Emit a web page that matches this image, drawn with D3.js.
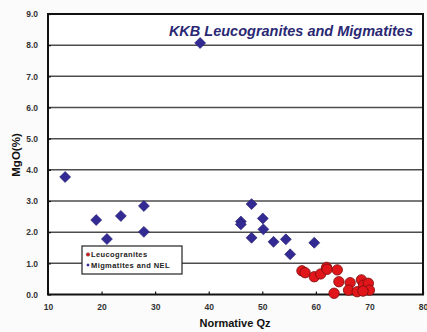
<!DOCTYPE html>
<html>
<head>
<meta charset="utf-8">
<script src="https://cdn.jsdelivr.net/npm/d3@7"></script>
<style>
  body { margin: 0; background: #fbfbfb; }
  svg { font-family: "Liberation Sans", Arial, sans-serif; }
</style>
</head>
<body>
<div id="chart"></div>
<script>
// Migmatites and NEL (blue diamonds)
var migQz  = [13.2, 19.0, 21.0, 23.6, 27.9, 27.9, 38.4, 48.0, 46.0, 46.0, 50.1, 50.2, 48.0, 52.1, 54.4, 59.7, 55.2];
var migMgO = [3.77, 2.39, 1.78, 2.52, 2.84, 2.01, 8.07, 2.90, 2.34, 2.25, 2.44, 2.09, 1.82, 1.69, 1.77, 1.66, 1.29];
// Leucogranites (red circles)
var leuQz  = [57.4, 58.0, 59.7, 60.9, 62.0, 62.1, 64.0, 64.3, 63.4, 66.4, 66.1, 67.7, 68.5, 68.9, 69.8, 70.0, 68.8];
var leuMgO = [0.76, 0.70, 0.57, 0.66, 0.87, 0.81, 0.79, 0.41, 0.04, 0.38, 0.14, 0.09, 0.47, 0.30, 0.36, 0.14, 0.11];

var xTicks = [10, 20, 30, 40, 50, 60, 70, 80];
var yTicks = [0, 1, 2, 3, 4, 5, 6, 7, 8, 9];
var legendLabels = ["Leucogranites", "Migmatites and NEL"];
var titleText = "KKB Leucogranites and Migmatites";

var margin = {top: 14, right: 5, bottom: 37, left: 48},
    outerWidth = 427,
    outerHeight = 332,
    width = 423 - margin.left,
    height = 294.5 - margin.top;

var x = d3.scaleLinear().domain([10, 80]).range([0, width]);
var y = d3.scaleLinear().domain([0, 9]).range([height, 0]);

var svg = d3.select("#chart").append("svg")
    .attr("width", outerWidth)
    .attr("height", outerHeight)
  .append("g")
    .attr("transform", "translate(" + margin.left + "," + margin.top + ")");

svg.append("rect")
    .attr("width", width)
    .attr("height", height)
    .style("fill", "#fff");

// grid lines
svg.selectAll(".grid")
    .data(yTicks.filter(function(d) { return d > 0 && d < 9; }))
    .enter().append("line")
    .attr("x1", 0).attr("x2", width)
    .attr("y1", function(d) { return y(d); })
    .attr("y2", function(d) { return y(d); })
    .style("stroke", "#4d4d4d")
    .style("stroke-width", 1.5);

var xAxis = d3.axisBottom(x).tickValues(xTicks).tickSize(-3).tickPadding(9)
    .tickFormat(d3.format("d"));
var yAxis = d3.axisLeft(y).tickValues(yTicks).tickSize(-3).tickPadding(10)
    .tickFormat(d3.format(".1f"));

var gX = svg.append("g")
    .attr("transform", "translate(0," + height + ")")
    .call(xAxis);
var gY = svg.append("g").call(yAxis);

[gX, gY].forEach(function(g) {
    g.select(".domain").remove();
    g.selectAll("line").style("stroke", "#111").style("stroke-width", 1.2);
    g.selectAll("text")
        .style("font-size", "8.5px")
        .style("font-weight", "bold")
        .style("fill", "#333");
});

// plot border
svg.append("rect")
    .attr("width", width)
    .attr("height", height)
    .style("fill", "none")
    .style("stroke", "#111")
    .style("stroke-width", 2);

// axis titles
svg.append("text")
    .attr("x", 235 - margin.left)
    .attr("y", height + 32)
    .style("text-anchor", "middle")
    .style("font-size", "11px")
    .style("font-weight", "bold")
    .style("fill", "#111")
    .text("Normative Qz");

svg.append("text")
    .attr("transform", "rotate(-90)")
    .attr("x", -(155 - margin.top))
    .attr("y", -28)
    .style("text-anchor", "middle")
    .style("font-size", "11.5px")
    .style("font-weight", "bold")
    .style("fill", "#111")
    .text("MgO(%)");

// title
svg.append("text")
    .attr("x", width - 10)
    .attr("y", 22)
    .style("text-anchor", "end")
    .style("font-size", "14.5px")
    .style("font-weight", "bold")
    .style("font-style", "italic")
    .style("fill", "#2a2873")
    .text(titleText);

var diamond = d3.symbol().type(d3.symbolSquare).size(60);

svg.selectAll(".mig")
    .data(migQz)
    .enter().append("path")
    .attr("d", diamond)
    .attr("transform", function(d, i) {
        return "translate(" + x(d) + "," + y(migMgO[i]) + ") rotate(45)";
    })
    .style("fill", "#332b93")
    .style("stroke", "#221c6b")
    .style("stroke-width", 0.6);

svg.selectAll(".leu")
    .data(leuQz)
    .enter().append("circle")
    .attr("cx", function(d) { return x(d); })
    .attr("cy", function(d, i) { return y(leuMgO[i]); })
    .attr("r", 5.2)
    .style("fill", "#e0161a")
    .style("stroke", "#7a0d0d")
    .style("stroke-width", 0.8);

// legend
var lg = svg.append("g").attr("transform", "translate(" + (82 - margin.left) + "," + (246 - margin.top) + ")");
lg.append("rect")
    .attr("width", 100)
    .attr("height", 28)
    .style("fill", "#fff")
    .style("stroke", "#222")
    .style("stroke-width", 1.2);
lg.append("circle")
    .attr("cx", 6).attr("cy", 8.5).attr("r", 1.8)
    .style("fill", "#e0161a").style("stroke", "#555").style("stroke-width", 0.5);
lg.append("path")
    .attr("d", d3.symbol().type(d3.symbolSquare).size(6))
    .attr("transform", "translate(6,19) rotate(45)")
    .style("fill", "#332b93");
lg.selectAll(".lt")
    .data(legendLabels)
    .enter().append("text")
    .attr("x", 9)
    .attr("y", function(d, i) { return 11 + i * 10.5; })
    .style("font-size", "7.5px")
    .style("font-weight", "bold")
    .style("letter-spacing", "0.4px")
    .style("fill", "#222")
    .text(function(d) { return d; });
</script>
</body>
</html>
